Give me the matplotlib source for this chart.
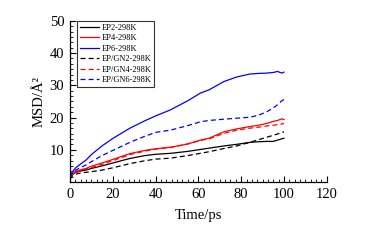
import matplotlib
matplotlib.use('Agg')
from matplotlib import pyplot as plt
from matplotlib.ticker import MultipleLocator, AutoMinorLocator

plt.rcParams['font.family'] = ['Liberation Serif', 'DejaVu Serif']

t = [0, 1, 2.5, 5, 7.5, 10, 15, 20, 28, 35, 40, 47, 55, 61, 65, 72, 78, 84, 88, 92, 95, 97, 99, 100]

ep2 = [1.0, 2.2, 3.0, 3.4, 3.7, 4.2, 5.0, 5.9, 7.3, 8.2, 8.6, 8.9, 9.5, 10.1, 10.5, 11.2, 11.7, 12.3,
       12.5, 12.6, 12.6, 13.0, 13.4, 13.6]
ep4 = [1.5, 2.5, 3.2, 3.8, 4.2, 4.9, 5.9, 7.0, 8.8, 9.8, 10.3, 10.8, 11.8, 13.0, 13.6, 15.6, 16.5, 17.2,
       17.6, 18.2, 18.8, 19.1, 19.6, 19.4]
ep6 = [1.5, 3.0, 4.3, 5.6, 6.8, 8.5, 11.2, 13.5, 16.7, 19.0, 20.5, 22.4, 25.2, 27.6, 28.6, 31.2, 32.6, 33.5,
       33.7, 33.8, 34.0, 34.3, 33.8, 34.1]
gn2 = [0.8, 1.8, 2.4, 2.8, 3.0, 3.2, 3.7, 4.4, 5.7, 6.6, 7.1, 7.4, 8.2, 8.9, 9.4, 10.4, 11.2, 12.3,
       13.1, 13.9, 14.5, 14.9, 15.3, 15.6]
gn4 = [1.2, 2.2, 2.9, 3.5, 4.0, 4.5, 5.5, 6.6, 8.5, 9.6, 10.2, 10.7, 11.8, 12.9, 13.4, 15.1, 16.1, 16.7,
       17.0, 17.4, 17.6, 17.8, 18.0, 18.2]
gn6 = [1.5, 2.6, 3.6, 4.5, 5.3, 6.3, 8.2, 9.8, 12.3, 14.2, 15.4, 16.1, 17.5, 18.7, 19.1, 19.5, 19.8, 20.1,
       20.7, 21.8, 23.0, 24.0, 25.2, 25.6]

labels = ['EP2-298K', 'EP4-298K', 'EP6-298K', 'EP/GN2-298K', 'EP/GN4-298K', 'EP/GN6-298K']

fig = plt.figure(figsize=(3.68, 2.43), dpi=100)
ax = fig.add_axes([0.190, 0.251, 0.698, 0.663])

ax.plot(t, ep2, c='black', lw=0.9, label=labels[0])
ax.plot(t, ep4, c='red', lw=0.9, label=labels[1])
ax.plot(t, ep6, c='blue', lw=0.9, label=labels[2])
ax.plot(t, gn2, c='black', lw=0.9, ls=(0, (4, 2.5)), label=labels[3])
ax.plot(t, gn4, c='red', lw=0.9, ls=(0, (4, 2.5)), label=labels[4])
ax.plot(t, gn6, c='blue', lw=0.9, ls=(0, (4, 2.5)), label=labels[5])

ax.set_xlim(0, 120)
ax.set_ylim(0, 50)
ax.xaxis.set_major_locator(MultipleLocator(20))
ax.xaxis.set_minor_locator(MultipleLocator(2.5))
ax.yaxis.set_major_locator(MultipleLocator(10))
ax.yaxis.set_minor_locator(AutoMinorLocator(6))
ax.set_yticks([10, 20, 30, 40, 50])

for s in ['top', 'right']:
    ax.spines[s].set_visible(False)
for s in ['left', 'bottom']:
    ax.spines[s].set_linewidth(0.9)

ax.tick_params(axis='both', which='major', direction='in', length=4, width=0.8, labelsize=10.5, pad=4)
ax.tick_params(axis='both', which='minor', direction='in', length=2, width=0.6)

ax.set_xlabel('Time/ps', fontsize=10.5, labelpad=6)
ax.set_ylabel('MSD/Å²', fontsize=10.5, labelpad=3)

leg = ax.legend(loc='upper left', bbox_to_anchor=(0.028, 1.0), borderaxespad=0, fontsize=6,
                frameon=True, fancybox=False, handlelength=2.3, handletextpad=0.3,
                labelspacing=0.3, borderpad=0.35)
leg.get_frame().set_edgecolor('black')
leg.get_frame().set_linewidth(0.8)

plt.savefig('out.png', dpi=100)
